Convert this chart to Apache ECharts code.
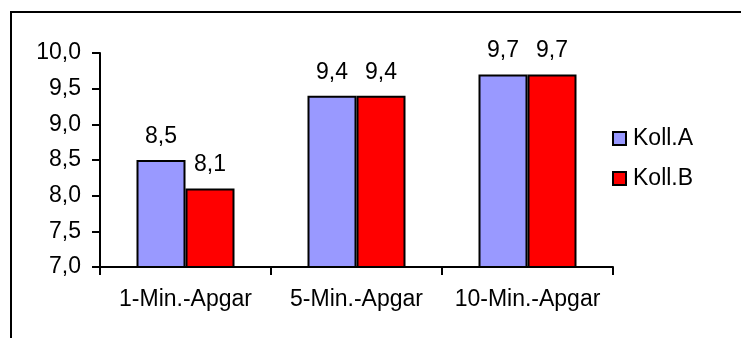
<!DOCTYPE html>
<html>
<head>
<meta charset="utf-8">
<script src="https://cdn.jsdelivr.net/npm/echarts@6/dist/echarts.min.js"></script>
<style>
html,body{margin:0;padding:0;background:#fff;}
#chart{width:741px;height:338px;}
</style>
</head>
<body>
<div id="chart"></div>
<script>
var categories = ['1-Min.-Apgar', '5-Min.-Apgar', '10-Min.-Apgar'];
var seriesNames = ['Koll.A', 'Koll.B'];
var kollA = [8.5, 9.4, 9.7];
var kollB = [8.1, 9.4, 9.7];
var yTicks = [7.0, 7.5, 8.0, 8.5, 9.0, 9.5, 10.0];

var FONT = '"Liberation Sans", Arial, sans-serif';
var FS = 23;
function fmt(v) { return Number(v).toFixed(1).replace('.', ','); }

var chart = echarts.init(document.getElementById('chart'));
chart.setOption({
  animation: false,
  backgroundColor: '#fff',
  textStyle: { fontFamily: FONT },
  graphic: [{
    type: 'rect',
    shape: { x: 11, y: 12, width: 800, height: 400 },
    style: { fill: 'none', stroke: '#000', lineWidth: 2 },
    silent: true
  }],
  grid: { left: 100, top: 53, right: 128, bottom: 71, containLabel: false },
  legend: {
    orient: 'vertical',
    left: 607,
    top: 122,
    itemWidth: 13,
    itemHeight: 13,
    itemGap: 17,
    icon: 'rect',
    textStyle: { fontFamily: FONT, fontSize: FS, color: '#000', padding: [0, 0, 0, 2] },
    data: seriesNames
  },
  xAxis: {
    type: 'category',
    data: categories,
    axisLine: { lineStyle: { color: '#000', width: 2 } },
    axisTick: { show: true, length: 8, lineStyle: { color: '#000', width: 2 } },
    axisLabel: { interval: 0, color: '#000', fontFamily: FONT, fontSize: FS, margin: 21 }
  },
  yAxis: {
    type: 'value',
    min: yTicks[0],
    max: yTicks[yTicks.length - 1],
    interval: 0.5,
    splitLine: { show: false },
    axisLine: { show: true, lineStyle: { color: '#000', width: 2 } },
    axisTick: { show: true, length: 8, lineStyle: { color: '#000', width: 2 } },
    axisLabel: { color: '#000', fontFamily: FONT, fontSize: FS, margin: 19, formatter: fmt }
  },
  series: [{
    name: seriesNames[0],
    type: 'bar',
    data: kollA,
    barWidth: 49,
    barGap: '0%',
    itemStyle: { color: '#9999FF', borderColor: '#000', borderWidth: 2 },
    label: { show: true, position: 'top', distance: 12, color: '#000', fontFamily: FONT, fontSize: FS, formatter: function (p) { return fmt(p.value); } }
  }, {
    name: seriesNames[1],
    type: 'bar',
    data: kollB,
    barWidth: 49,
    barGap: '0%',
    itemStyle: { color: '#FF0000', borderColor: '#000', borderWidth: 2 },
    label: { show: true, position: 'top', distance: 12, color: '#000', fontFamily: FONT, fontSize: FS, formatter: function (p) { return fmt(p.value); } }
  }]
});
</script>
</body>
</html>
